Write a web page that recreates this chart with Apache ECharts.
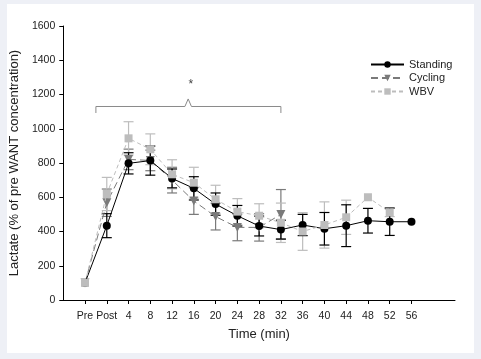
<!DOCTYPE html>
<html>
<head>
<meta charset="utf-8">
<script src="https://cdn.jsdelivr.net/npm/echarts@6/dist/echarts.min.js"></script>
<style>
html,body{margin:0;padding:0;background:#eef0f6;}
#c{width:481px;height:359px;}
</style>
</head>
<body>
<div id="c"></div>
<script>
// Tick labels / categories (positioned at x index 1..16)
const timeLabels = ['Pre','Post','4','8','12','16','20','24','28','32','36','40','44','48','52','56'];
const yTicks = [0,200,400,600,800,1000,1200,1400,1600];

// Series means (% of pre WANT concentration)
const standing = [100,434,798,814,710,652,560,492,432,411,438,416,434,463,457,457];
const standingSD = [0,70,62,85,55,68,65,60,58,55,62,95,122,72,80,0];
const cycling = [100,568,821,815,700,578,487,424,424,500];
const cyclingSD = [0,80,60,60,75,78,78,78,80,145];
const wbv = [100,619,944,880,734,685,588,516,492,451,400,438,483,600,512];
const wbvSD = [0,97,97,90,85,90,82,76,70,115,110,135,100,0,25];

// Significance annotation (data units: x index, y value)
const bracketX = [1.5, 10];
const bracketY = 1130;
const bracketTipX = 5.74;
const bracketTipY = 1174;
const bracketEndY = 1092;
const starText = '*';
const starPos = [5.86, 1255];

const font = 'Liberation Sans, Arial, sans-serif';
const pts = (arr) => arr.map((v,i)=>[i+1, v]);
const errPts = (arr, sd) => arr.map((v,i)=>[i+1, v, sd[i]]);

function errRender(color){
  return function(params, api){
    const x = api.value(0), m = api.value(1), s = api.value(2);
    if (!s) return null;
    const t = api.coord([x, m+s]);
    const b = api.coord([x, m-s]);
    const hw = 5;
    const st = {stroke: color, lineWidth: 1.2};
    return {type:'group', children:[
      {type:'line', shape:{x1:t[0],y1:t[1],x2:b[0],y2:b[1]}, style:st},
      {type:'line', shape:{x1:t[0]-hw,y1:t[1],x2:t[0]+hw,y2:t[1]}, style:st},
      {type:'line', shape:{x1:b[0]-hw,y1:b[1],x2:b[0]+hw,y2:b[1]}, style:st}
    ]};
  };
}

const cStand = '#000000', cCyc = '#7a7a7a', cWbv = '#bdbdbd';

const chart = echarts.init(document.getElementById('c'));
const option = {
  backgroundColor: '#eef0f6',
  animation: false,
  textStyle: {fontFamily: font},
  grid: {left: 61, right: 26, top: 26, bottom: 59},
  legend: {
    orient: 'vertical', left: 365, top: 54, itemWidth: 33, itemHeight: 8, itemGap: 2.5,
    textStyle: {fontFamily: font, fontSize: 11, color: '#222'},
    data: ['Standing','Cycling','WBV']
  },
  xAxis: {
    type: 'value', min: 0, max: 18, interval: 1,
    name: 'Time (min)', nameLocation: 'middle', nameGap: 28,
    nameTextStyle: {fontFamily: font, fontSize: 13, color: '#222'},
    axisLine: {lineStyle: {color: '#000', width: 1}},
    axisTick: {show: true, length: 4, inside: false, lineStyle:{color:'#000'},
      customValues: timeLabels.map((_,i)=>i+1)},
    axisLabel: {fontSize: 10.5, color: '#222', margin: 11,
      customValues: timeLabels.map((_,i)=>i+1),
      formatter: (v)=> timeLabels[v-1] || ''},
    splitLine: {show: false}
  },
  yAxis: {
    type: 'value', min: yTicks[0], max: yTicks[yTicks.length-1], interval: 200,
    name: 'Lactate (% of pre WANT concentration)', nameLocation: 'middle', nameGap: 32,
    nameTextStyle: {fontFamily: font, fontSize: 13, color: '#222'},
    axisLine: {show: true, lineStyle: {color: '#000', width: 1}},
    axisTick: {show: true, length: 4, lineStyle:{color:'#000'}},
    axisLabel: {fontSize: 10.5, color: '#222', margin: 8, formatter: (v)=> String(v)},
    splitLine: {show: false}
  },
  series: [
    {type:'custom', name:'cycErr', renderItem: errRender(cCyc), data: errPts(cycling, cyclingSD), z: 1, silent:true, encode:{x:0,y:1}},
    {type:'custom', name:'wbvErr', renderItem: errRender(cWbv), data: errPts(wbv, wbvSD), z: 1, silent:true, encode:{x:0,y:1}},
    {type:'custom', name:'stdErr', renderItem: errRender(cStand), data: errPts(standing, standingSD), z: 1, silent:true, encode:{x:0,y:1}},
    {type:'line', name:'Cycling', data: pts(cycling), z: 3,
      symbol:'triangle', symbolRotate: 180, symbolSize: 9,
      lineStyle:{color:cCyc, width:1, type:[7,4]}, itemStyle:{color:cCyc}},
    {type:'line', name:'Standing', data: pts(standing), z: 4,
      symbol:'circle', symbolSize: 8,
      lineStyle:{color:cStand, width:1}, itemStyle:{color:cStand}},
    {type:'line', name:'WBV', data: pts(wbv), z: 5,
      symbol:'rect', symbolSize: 8,
      lineStyle:{color:cWbv, width:1, type:[4,3]}, itemStyle:{color:cWbv}}
  ]
};
chart.setOption(option);

const P = (x,y)=>chart.convertToPixel({gridIndex:0},[x,y]);
const a = P(bracketX[0], bracketEndY), b = P(bracketX[0]+0.15, bracketY);
const c1 = P(bracketTipX-0.15, bracketY), tip = P(bracketTipX, bracketTipY), c2 = P(bracketTipX+0.15, bracketY);
const d = P(bracketX[1]-0.15, bracketY), e = P(bracketX[1], bracketEndY);
const sp = P(starPos[0], starPos[1]);
chart.setOption({
  graphic: [
    {type:'rect', z:-10, shape:{x:7,y:4,width:467,height:349}, style:{fill:'#ffffff'}, silent:true},
    {type:'polyline', shape:{points:[a,[a[0],b[1]],c1,tip,c2,[e[0],d[1]],e], smooth:0}, style:{stroke:'#8a8a8a', lineWidth:1, fill:null}},
    {type:'text', x: sp[0], y: sp[1], style:{text: starText, font:'12px '+font, fill:'#444', align:'center', verticalAlign:'middle'}}
  ]
});
</script>
</body>
</html>
